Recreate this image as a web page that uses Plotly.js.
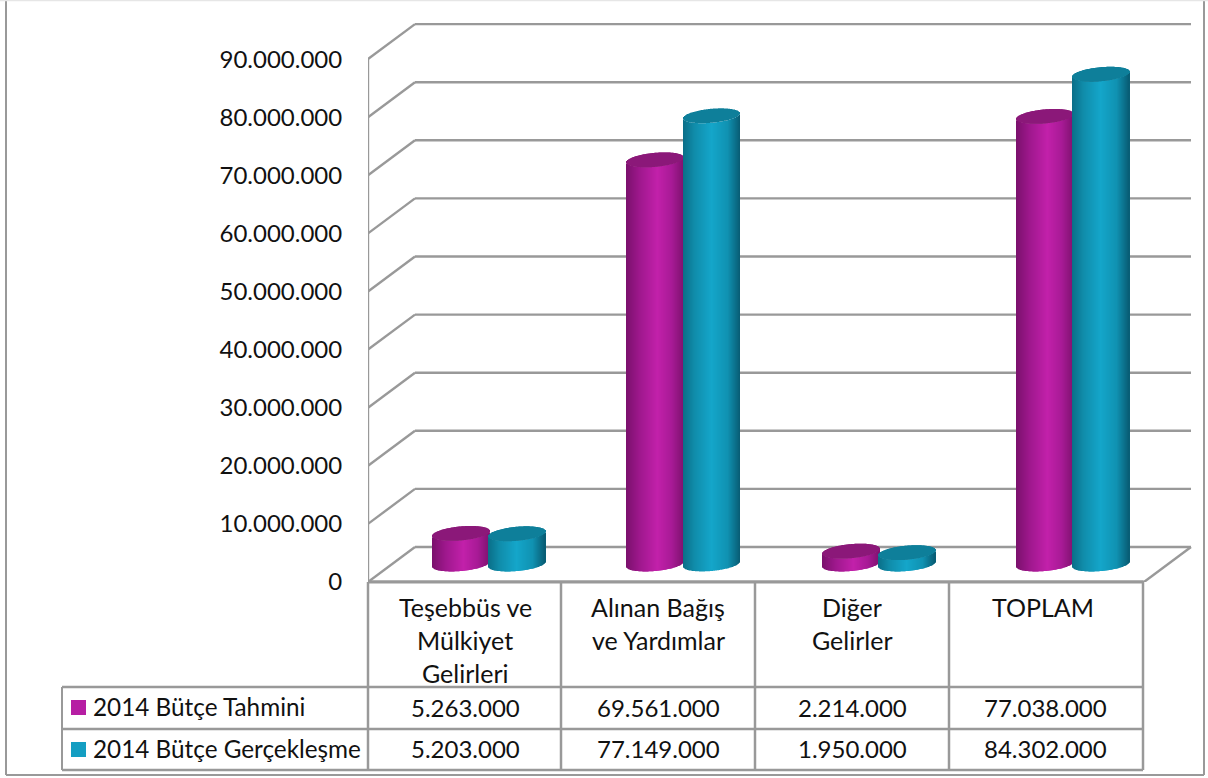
<!DOCTYPE html>
<html><head><meta charset="utf-8">
<script src="https://cdn.plot.ly/plotly-3.0.1.min.js"></script>
<style>html,body{margin:0;padding:0;background:#fff}#c{width:1208px;height:778px}</style>
</head><body><div id="c"></div>
<script>
// ---- chart data ----
var categories = [["Teşebbüs ve","Mülkiyet","Gelirleri"],["Alınan Bağış","ve Yardımlar"],["Diğer","Gelirler"],["TOPLAM"]];
var seriesNames = ["2014 Bütçe Tahmini","2014 Bütçe Gerçekleşme"];
var tahmini = [5263000,69561000,2214000,77038000];
var gerceklesme = [5203000,77149000,1950000,84302000];
var tickValues = [0,10000000,20000000,30000000,40000000,50000000,60000000,70000000,80000000,90000000];
var tickLabels = ["0","10.000.000","20.000.000","30.000.000","40.000.000","50.000.000","60.000.000","70.000.000","80.000.000","90.000.000"];

// ---- geometry ----
var L=368,R=1200,T=18,B=582, W=R-L, H=B-T;
var catPx=194, valPx=58.1/10000000;
var xRange=[-0.5,-0.5+W/catPx], yRange=[0,H/valPx];
var dx=47/catPx, dy=35/valPx;               // depth of the 3D box in axis units
var lastX=3.5;
function px(p){return (p-L)/W} function py(p){return (B-p)/H}

var FONT='Lato, "Open Sans", sans-serif', GRID='#999999';
var shapes=[], annotations=[];
function line(xr,yr,x0,y0,x1,y1,w,c){shapes.push({type:'line',xref:xr,yref:yr,x0:x0,y0:y0,x1:x1,y1:y1,layer:'below',line:{color:c||GRID,width:w||2.4}})}

// walls
tickValues.forEach(function(v){
  line('x','y',-0.5,v,-0.5+dx,v+dy);
  line('x','y',-0.5+dx,v+dy,lastX+dx,v+dy);
});
line('x','y',-0.5,0,lastX,0,3);
line('x','y',lastX,0,lastX+dx,dy);
line('x','y',-0.5,0,-0.5,90000000,2.4);

// table
var P='paper';
[582,687,729,770].forEach(function(y,i){line(P,P,px(i==0?368:62),py(y),px(1143),py(y),i==0?3:2.5)});
[368,561,755,949,1143].forEach(function(x){line(P,P,px(x),py(582),px(x),py(770),2.5)});
line(P,P,px(62),py(687),px(62),py(770),2);
// outer frame
line(P,P,px(6),py(1),px(6),py(775),2);
line(P,P,px(1204),py(1),px(1204),py(775),2);
line(P,P,px(6),py(775),px(1204),py(775),2);
line(P,P,px(0),py(0.5),px(1208),py(0.5),1.5,'#e6e6e6');

function text(s,x,y,size,anchor){annotations.push({text:s,xref:P,yref:P,x:px(x),y:py(y),xanchor:anchor||'center',yanchor:'middle',showarrow:false,font:{family:FONT,size:size,color:'#111'}})}
var cellCx=[465,658,852,1043];
function fmt(v){return String(v).replace(/\B(?=(\d{3})+$)/g,'.')}
categories.forEach(function(lines,i){lines.forEach(function(s,j){text(s,cellCx[i],607+j*33,25)})});
tahmini.forEach(function(v,i){text(fmt(v),cellCx[i]===1043?1045:cellCx[i],707,24)});
gerceklesme.forEach(function(v,i){text(fmt(v),cellCx[i]===1043?1045:cellCx[i],748,24)});
text(seriesNames[0],91,706,24.3,'left'); text(seriesNames[1],91,748,24.3,'left');
[['#b61ea3',700],['#149ec2',742]].forEach(function(k){
  shapes.push({type:'rect',xref:P,yref:P,x0:px(71),x1:px(86),y0:py(k[1]),y1:py(k[1]+15),fillcolor:k[0],line:{width:0}});
});

// cylinders as pixel-wide bar strips on the chart's axes
var STRIPS=57, cylW=57/catPx, semi=7/valPx, tilt=2.5/valPx, baseOff=18/valPx;
var shiftX=[23.5,24,25.5,25.5];
function mix(a,b,t){return a.map(function(v,i){return Math.round(v+(b[i]-v)*t)})}
function shade(stops,t){
  for(var i=1;i<stops.length;i++){ if(t<=stops[i][0]){
    return mix(stops[i-1][1],stops[i][1],(t-stops[i-1][0])/(stops[i][0]-stops[i-1][0]));
  }}
  return stops[stops.length-1][1];
}
function rgb(c){return 'rgb('+c.join(',')+')'}
var magStops=[[0,[122,16,108]],[0.25,[160,24,142]],[0.55,[194,32,170]],[0.8,[168,26,150]],[1,[128,18,112]]];
var tealStops=[[0,[10,110,136]],[0.2,[16,140,170]],[0.5,[20,166,202]],[0.78,[16,146,178]],[1,[8,92,116]]];

function cylinderTraces(values,stops,capColor,name,side){
  var body={type:'bar',name:name,x:[],y:[],base:[],width:[],marker:{color:[],line:{width:0}},hoverinfo:'skip',showlegend:false};
  var cap ={type:'bar',name:name,x:[],y:[],base:[],width:[],marker:{color:capColor,line:{width:0}},hoverinfo:'skip',showlegend:false};
  values.forEach(function(v,c){
    var center=c+shiftX[c]/catPx+side*cylW/2;
    for(var s=0;s<STRIPS;s++){
      var f=(s+0.5)/STRIPS, t=2*f-1, h=semi*Math.sqrt(1-t*t), tl=tilt*t;
      var xpos=center+t*cylW/2, bw=cylW/STRIPS;
      var lower=baseOff+tl-h, topLow=baseOff+v+tl-h, topHigh=baseOff+v+tl+h;
      body.x.push(xpos); body.base.push(lower); body.y.push(topLow-lower); body.width.push(bw); body.marker.color.push(rgb(shade(stops,f)));
      cap.x.push(xpos); cap.base.push(topLow); cap.y.push(topHigh-topLow); cap.width.push(bw);
    }
  });
  return [body,cap];
}
var traces=cylinderTraces(tahmini,magStops,'#8b1879',seriesNames[0],-0.97)
  .concat(cylinderTraces(gerceklesme,tealStops,'#0e7f9a',seriesNames[1],1.0));

var layout={
  width:1208,height:778,showlegend:false,paper_bgcolor:'#fff',plot_bgcolor:'rgba(0,0,0,0)',
  margin:{l:L,r:1208-R,t:T,b:778-B,pad:0},barmode:'overlay',
  xaxis:{range:xRange,visible:false,fixedrange:true},
  yaxis:{range:yRange,tickmode:'array',tickvals:tickValues,ticktext:tickLabels,showgrid:false,zeroline:false,showline:false,
         ticks:'outside',ticklen:20,tickcolor:'rgba(0,0,0,0)',tickfont:{family:FONT,size:24,color:'#111'},fixedrange:true},
  shapes:shapes,annotations:annotations
};
Plotly.newPlot('c',traces,layout,{displayModeBar:false});
</script></body></html>
